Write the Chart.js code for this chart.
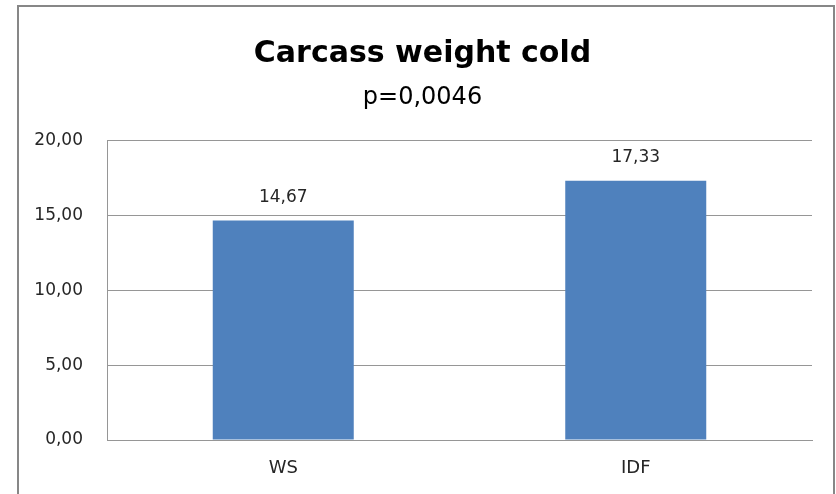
<!DOCTYPE html>
<html lang="en">
<head>
    <meta charset="UTF-8">
    <script src="https://cdn.jsdelivr.net/npm/chart.js@4.4.0/dist/chart.umd.min.js"></script>
    <title>Carcass weight cold</title>
    <style>
        html, body { margin: 0; padding: 0; background: #fff; overflow: hidden; }
        #frame {
            position: absolute; left: 17px; top: 5px;
            width: 818px; height: 600px;
            border: 2px solid #878787; box-sizing: border-box;
            pointer-events: none;
        }
        #myChart { position: absolute; left: 0; top: 0; }
    </style>
</head>
<body>
    <canvas id="myChart" width="836" height="494"></canvas>
    <div id="frame"></div>
    <script>
        // data
        var groups = ['WS', 'IDF'];
        var weights = [14.67, 17.33];
        var yTicks = [0, 5, 10, 15, 20];

        var barBlue = '#4F81BD';
        var gridGrey = '#969696';
        var textDark = '#262626';

        function comma(v) {
            return Number(v).toFixed(2).replace('.', ',');
        }

        // value labels above the bars
        var barLabels = {
            id: 'barLabels',
            afterDatasetsDraw: function (chart) {
                var ctx = chart.ctx;
                var meta = chart.getDatasetMeta(0);
                ctx.save();
                ctx.font = '17px "DejaVu Sans"';
                ctx.fillStyle = textDark;
                ctx.textAlign = 'center';
                ctx.textBaseline = 'middle';
                meta.data.forEach(function (bar, i) {
                    ctx.fillText(comma(weights[i]), bar.x, bar.y - 23);
                });
                ctx.restore();
            }
        };

        var ctx = document.getElementById('myChart').getContext('2d');
        var myChart = new Chart(ctx, {
            type: 'bar',
            data: {
                labels: groups,
                datasets: [{
                    data: weights,
                    backgroundColor: barBlue,
                    borderWidth: 0,
                    barPercentage: 0.4,
                    categoryPercentage: 1
                }]
            },
            options: {
                responsive: false,
                animation: false,
                devicePixelRatio: 1,
                layout: { padding: { left: 33, right: 24, top: 0, bottom: 0 } },
                plugins: {
                    legend: { display: false },
                    tooltip: { enabled: false },
                    title: {
                        display: true,
                        text: 'Carcass weight cold',
                        color: '#000',
                        font: { family: 'DejaVu Sans', size: 30, weight: 'bold', lineHeight: 1.2 },
                        padding: { top: 36, bottom: 0 }
                    },
                    subtitle: {
                        display: true,
                        text: 'p=0,0046',
                        color: '#000',
                        font: { family: 'DejaVu Sans', size: 24, lineHeight: 1.2 },
                        padding: { top: 11, bottom: 29 }
                    }
                },
                scales: {
                    x: {
                        grid: { display: false, drawTicks: false },
                        border: { display: true, color: gridGrey, width: 1 },
                        ticks: {
                            color: textDark,
                            padding: 18,
                            font: { family: 'DejaVu Sans', size: 18 }
                        },
                        afterFit: function (scale) { scale.height = 54; }
                    },
                    y: {
                        min: yTicks[0],
                        max: yTicks[yTicks.length - 1],
                        afterBuildTicks: function (scale) {
                            scale.ticks = yTicks.map(function (v) { return { value: v }; });
                        },
                        grid: { color: gridGrey, drawTicks: false },
                        border: { display: true, color: gridGrey, width: 1 },
                        ticks: {
                            color: textDark,
                            padding: 24,
                            font: { family: 'DejaVu Sans', size: 17 },
                            callback: function (v) { return comma(v); }
                        },
                        afterFit: function (scale) { scale.width = 74; }
                    }
                }
            },
            plugins: [barLabels]
        });
    </script>
</body>
</html>
